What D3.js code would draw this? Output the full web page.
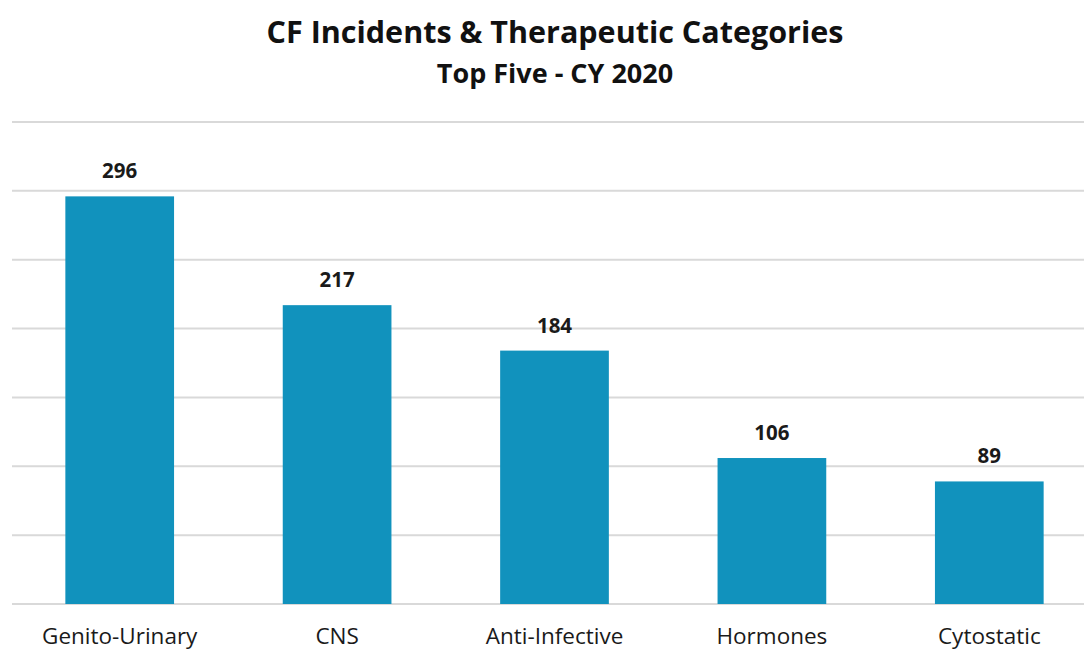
<!DOCTYPE html>
<html>
<head>
<meta charset="utf-8">
<script src="https://cdn.jsdelivr.net/npm/d3@7"></script>
<style>
  body { margin: 0; background: #fff; }
  svg { display: block; font-family: "Open Sans", "Lato", sans-serif; }
</style>
</head>
<body>
<svg id="chart" width="1084" height="652"></svg>
<script>
const categories = ["Genito-Urinary", "CNS", "Anti-Infective", "Hormones", "Cytostatic"];
const values = [296, 217, 184, 106, 89];
const yTicks = [0, 50, 100, 150, 200, 250, 300, 350];
const titleText = "CF Incidents & Therapeutic Categories";
const subtitleText = "Top Five - CY 2020";

const svg = d3.select("#chart");
const W = 1084, H = 652;
const margin = { left: 11, right: -14, top: 122, bottom: 48 };
const plotBottom = H - margin.bottom; // 604

const x = d3.scaleBand()
  .domain(categories)
  .range([margin.left, W - margin.right])
  .paddingInner(0.5)
  .paddingOuter(0.25);

const y = d3.scaleLinear()
  .domain([0, 350])
  .range([plotBottom, margin.top]);

// gridlines
svg.append("g")
  .selectAll("line")
  .data(yTicks)
  .join("line")
  .attr("x1", 12)
  .attr("x2", W)
  .attr("y1", d => y(d))
  .attr("y2", d => y(d))
  .attr("stroke", "#d9d9d9")
  .attr("stroke-width", 2);

// bars
svg.append("g")
  .selectAll("rect")
  .data(categories)
  .join("rect")
  .attr("x", d => x(d))
  .attr("width", x.bandwidth())
  .attr("y", (d, i) => y(values[i]))
  .attr("height", (d, i) => y(0) - y(values[i]))
  .attr("fill", "#1192bd");

// value labels
svg.append("g")
  .selectAll("text")
  .data(categories)
  .join("text")
  .attr("x", d => x(d) + x.bandwidth() / 2)
  .attr("y", (d, i) => y(values[i]) - 18)
  .attr("text-anchor", "middle")
  .attr("font-size", 20.5)
  .attr("font-weight", "bold")
  .attr("fill", "#1a1a1a")
  .text((d, i) => values[i]);

// x axis labels
const xAxis = d3.axisBottom(x).tickSize(0).tickPadding(0);
const gx = svg.append("g")
  .attr("transform", `translate(0,${plotBottom})`)
  .call(xAxis);
gx.select(".domain").remove();
gx.selectAll("text")
  .attr("dy", null)
  .attr("y", 40)
  .attr("font-size", 22.5)
  .attr("font-family", "'Open Sans', Lato, sans-serif")
  .attr("fill", "#1a1a1a");

// titles
svg.append("text")
  .attr("x", 555)
  .attr("y", 43)
  .attr("text-anchor", "middle")
  .attr("font-size", 30.5)
  .attr("font-weight", "bold")
  .attr("fill", "#111")
  .text(titleText);

svg.append("text")
  .attr("x", 555)
  .attr("y", 83)
  .attr("text-anchor", "middle")
  .attr("font-size", 27)
  .attr("font-weight", "bold")
  .attr("fill", "#111")
  .text(subtitleText);
</script>
</body>
</html>
